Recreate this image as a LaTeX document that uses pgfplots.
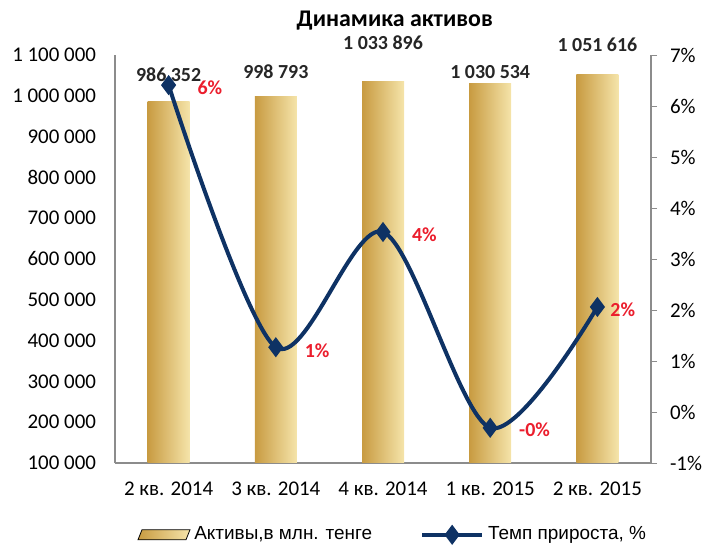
\documentclass[border=0pt]{standalone}
\usepackage{pgfplots}
\pgfplotsset{compat=1.18}
\usepackage{fontspec}
\setmainfont{Carlito}
\newfontfamily\legfont{Liberation Sans}
\definecolor{navy}{RGB}{14,50,100}
\definecolor{redlab}{RGB}{235,30,45}
\definecolor{goldL}{RGB}{200,155,65}
\definecolor{goldM}{RGB}{240,210,140}
\definecolor{goldR}{RGB}{245,228,170}
\definecolor{axgray}{RGB}{140,140,140}
\pgfplotsset{mylineleg/.style={legend image code/.code={\draw[mark repeat=2, mark phase=2, ##1] plot coordinates {(0bp,0bp) (15bp,0bp) (30bp,0bp)};}},
  goldbar/.style={ybar, bar width=21bp, bar shift=0pt, draw=none, left color=goldL, middle color=goldM, right color=goldR}}
\begin{document}
\begin{tikzpicture}
\pgfplotsset{every axis/.append style={scale only axis, width=268bp, height=204bp, xmin=-0.5, xmax=4.5, clip=false,
  /pgf/number format/assume math mode=true,
  ticklabel style={font=\fontsize{10.5}{12}\selectfont}}}
\begin{axis}[
  axis y line*=left, axis x line*=bottom,
  ymin=100000, ymax=1100000, scaled y ticks=false,
  ytick={100000,200000,300000,400000,500000,600000,700000,800000,900000,1000000,1100000},
  yticklabels={100 000,200 000,300 000,400 000,500 000,600 000,700 000,800 000,900 000,1 000 000,1 100 000},
  xtick={0,1,2,3,4},
  xticklabels={2 кв. 2014,3 кв. 2014,4 кв. 2014,1 кв. 2015,2 кв. 2015},
  major tick length=0pt,
  yticklabel style={xshift=-6bp},
  xticklabel style={yshift=-6bp},
  axis line style={axgray, line width=0.8bp},
]
\coordinate (ll) at (rel axis cs:0,0);
\addplot[goldbar] coordinates {(0,986352)};
\addplot[goldbar] coordinates {(1,998793)};
\addplot[goldbar] coordinates {(2,1033896)};
\addplot[goldbar] coordinates {(3,1030534)};
\addplot[goldbar] coordinates {(4,1051616)};
\node[font=\bfseries\fontsize{12}{14}\selectfont] at (rel axis cs:0.522,1) [yshift=17bp] {Динамика активов};
\begin{scope}[every node/.style={font=\bfseries\fontsize{10}{12}\selectfont, text=black!85}]
\node at (axis cs:0,1050980) {986 352};
\node at (axis cs:1,1058330) {998 793};
\node at (axis cs:2,1130000) {1 033 896};
\node at (axis cs:3,1058330) {1 030 534};
\node at (axis cs:4,1124500) {1 051 616};
\end{scope}
\end{axis}
\begin{axis}[
  axis y line*=right, axis x line=none,
  ymin=-1, ymax=7,
  ytick={-1,0,1,2,3,4,5,6,7},
  yticklabels={-1\%,0\%,1\%,2\%,3\%,4\%,5\%,6\%,7\%},
  xtick=\empty,
  major tick length=3bp, tick align=outside,
  tick style={axgray},
  yticklabel style={xshift=3bp},
  axis line style={axgray, line width=0.8bp},
  legend columns=2,
  legend style={draw=none, fill=none, at={(0.52,-0.176)}, anchor=center,
    font=\legfont\fontsize{9.5}{11}\selectfont,
    /tikz/every even column/.append style={column sep=22bp}},
]
\addlegendimage{legend image code/.code={\shade[left color=goldL, middle color=goldM, right color=goldR] (0bp,-2.5bp) -- (24bp,-2.5bp) -- (26bp,2.5bp) -- (2bp,2.5bp) -- cycle;}}
\addlegendentry{Активы,в млн. тенге}
\addplot[navy, line width=2bp, smooth, mark=diamond*, mark size=3.4bp, mylineleg]
  coordinates {(0,6.41) (1,1.27) (2,3.53) (3,-0.31) (4,2.06)};
\addlegendentry{Темп прироста, \%}
\begin{scope}[every node/.style={font=\bfseries\fontsize{10}{12}\selectfont, text=redlab, anchor=west}]
\node at (axis cs:0,6.41) [xshift=11bp, yshift=-1.5bp] {6\%};
\node at (axis cs:1,1.27) [xshift=11bp, yshift=-1.5bp] {1\%};
\node at (axis cs:2,3.53) [xshift=11bp, yshift=-1.5bp] {4\%};
\node at (axis cs:3,-0.31) [xshift=11bp, yshift=-1bp] {-0\%};
\node at (axis cs:4,2.06) [xshift=3bp, yshift=-1.5bp] {2\%};
\end{scope}
\end{axis}
\pgfresetboundingbox
\path (ll) ++(-57.5bp,-41bp) rectangle ++(352bp,272.5bp);
\end{tikzpicture}
\end{document}
